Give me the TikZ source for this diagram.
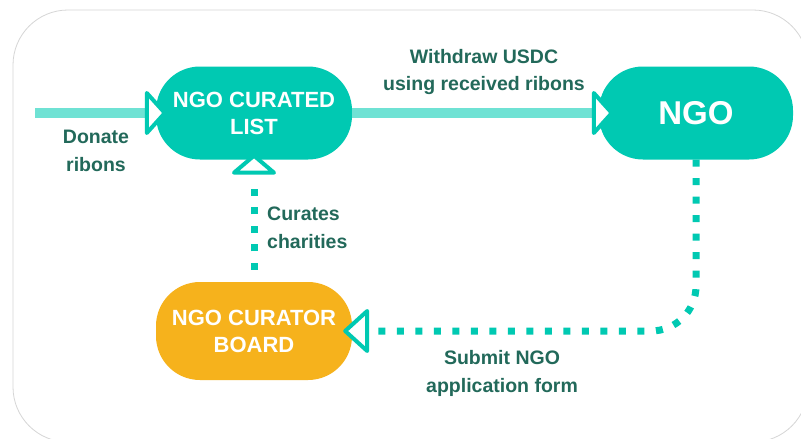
\documentclass[tikz,border=0pt]{standalone}
\usepackage{fontspec}
\setmainfont{Liberation Sans}
\definecolor{tealfill}{HTML}{00C9B2}
\definecolor{lineteal}{HTML}{6FE2D4}
\definecolor{orng}{HTML}{F6B21C}
\definecolor{lblcol}{HTML}{22695A}
\definecolor{framecol}{HTML}{D6D6D6}
\begin{document}
\begin{tikzpicture}[x=1pt,y=-1pt,
 pill/.style={rectangle, rounded corners=44pt, minimum width=196pt, minimum height=93pt, text=white, font=\bfseries\fontsize{22}{27}\selectfont, align=center, inner sep=0pt},
 lbl/.style={text=lblcol, font=\bfseries\fontsize{19.5}{28}\selectfont, align=center, inner sep=0pt},
 tri/.style={draw=tealfill, fill=white, line width=4pt, line join=round},
 solidc/.style={draw=lineteal, line width=10pt},
 dotc/.style={draw=tealfill, line width=7pt, dash pattern=on 7pt off 11.5pt},
]
\useasboundingbox (0,0) rectangle (801,439);
\fill[white] (0,0) rectangle (801,439);
\begin{scope}
\clip (0,0) rectangle (801,439);
\draw[framecol, line width=0.8pt, rounded corners=55pt] (13,10) rectangle (808,442);
\end{scope}

\node[pill, fill=tealfill] (list) at (254,113) {NGO CURATED\\LIST};
\node[pill, fill=tealfill, minimum width=194pt, font=\bfseries\fontsize{33}{40}\selectfont] (ngo) at (696,113) {NGO};
\node[pill, fill=orng, minimum height=98pt] (board) at (254,331) {NGO CURATOR\\BOARD};
\coordinate (src) at (35,113);

% arrowhead base points
\coordinate (t1) at ([xshift=-9pt]list.west);
\coordinate (t2) at ([xshift=-5pt]ngo.west);
\coordinate (t3) at ([yshift=-13pt]list.south);
\coordinate (t4) at ([xshift=15pt]board.east);

\draw[solidc] (src) -- (t1);
\draw[solidc] (list.east) -- (t2);
\draw[dotc, shorten <=12pt, shorten >=5pt] (board.north) -- (t3);
\draw[dotc, rounded corners=45pt, shorten >=4pt] (ngo.south) |- (t4);

\draw[tri] (t1) ++(0,-20) -- ++(18,20) -- ++(-18,20) -- cycle;
\draw[tri] (t2) ++(0,-20) -- ++(18,20) -- ++(-18,20) -- cycle;
\draw[tri] (t3) ++(-20,0) -- ++(20,-17) -- ++(20,17) -- cycle;
\draw[tri] (t4) ++(0,-20) -- ++(-22,20) -- ++(22,20) -- cycle;

\node[lbl] (l1) at (484,72) {Withdraw USDC\\using received ribons};
\node[lbl] (l2) at (96,151) {Donate\\ribons};
\node[lbl, align=left, anchor=west] (l3) at (267,228) {Curates\\charities};
\node[lbl] (l4) at (502,373) {Submit NGO\\application form};
\end{tikzpicture}
\end{document}
